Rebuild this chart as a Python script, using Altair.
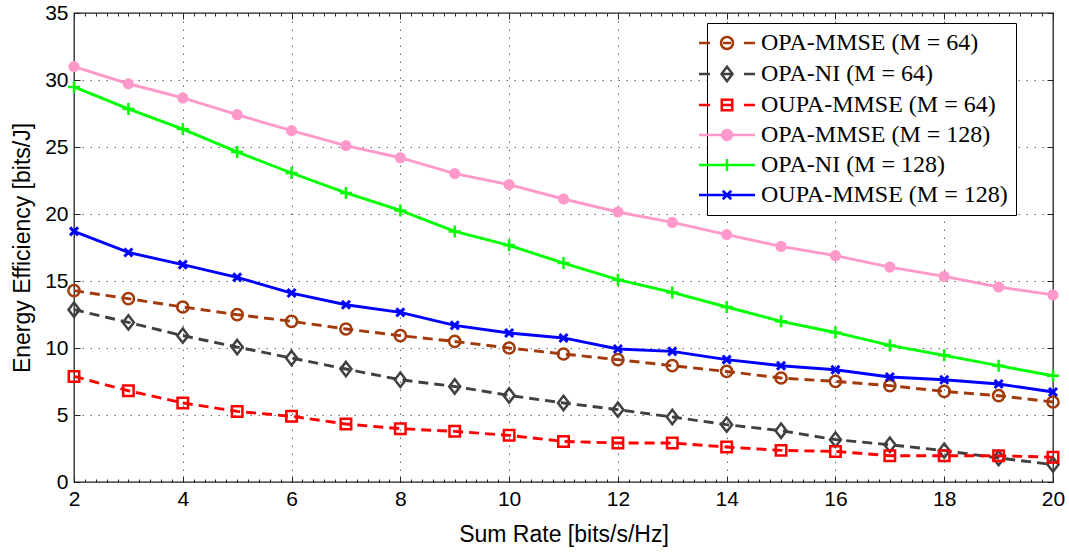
import altair as alt
import pandas as pd

# ---------------- data ----------------
sum_rate = list(range(2, 21))

series_labels = [
    "OPA-MMSE (M = 64)",
    "OPA-NI (M = 64)",
    "OUPA-MMSE (M = 64)",
    "OPA-MMSE (M = 128)",
    "OPA-NI (M = 128)",
    "OUPA-MMSE (M = 128)",
]

opa_mmse_64 = [14.28, 13.68, 13.06, 12.49, 11.99, 11.42, 10.92, 10.49, 10.00, 9.55,
               9.13, 8.68, 8.25, 7.76, 7.51, 7.19, 6.76, 6.44, 5.97]
opa_ni_64 = [12.86, 11.91, 10.92, 10.07, 9.25, 8.43, 7.63, 7.13, 6.46, 5.90,
             5.40, 4.85, 4.28, 3.83, 3.16, 2.78, 2.34, 1.79, 1.30]
oupa_mmse_64 = [7.88, 6.81, 5.90, 5.27, 4.90, 4.33, 3.98, 3.78, 3.48, 3.03,
                2.91, 2.91, 2.61, 2.36, 2.28, 1.96, 1.96, 1.96, 1.85]
opa_mmse_128 = [31.00, 29.72, 28.66, 27.41, 26.22, 25.10, 24.20, 23.01, 22.19, 21.12,
                20.15, 19.37, 18.46, 17.58, 16.89, 16.04, 15.34, 14.55, 13.96]
opa_ni_128 = [29.48, 27.84, 26.34, 24.63, 23.06, 21.57, 20.27, 18.70, 17.66, 16.34,
              15.10, 14.15, 13.06, 11.99, 11.16, 10.19, 9.45, 8.68, 7.93]
oupa_mmse_128 = [18.70, 17.13, 16.22, 15.27, 14.10, 13.23, 12.66, 11.69, 11.12, 10.75,
                 9.93, 9.75, 9.13, 8.68, 8.38, 7.84, 7.63, 7.31, 6.72]

series_values = [opa_mmse_64, opa_ni_64, oupa_mmse_64,
                 opa_mmse_128, opa_ni_128, oupa_mmse_128]

x_ticks = [2, 4, 6, 8, 10, 12, 14, 16, 18, 20]
y_ticks = [0, 5, 10, 15, 20, 25, 30, 35]
x_minor = [round(2 + 0.2 * i, 1) for i in range(91)]

# ---------------- styles ----------------
colors = ["#A33A0B", "#404040", "#FF0000", "#FF99CC", "#00FF00", "#0000FF"]
dashed = [True, True, True, False, False, False]
marker_shape = [
    "circle",
    "M0,-1.3L1,0L0,1.3L-1,0Z",
    "square",
    "circle",
    "M-1,0H1M0,-1V1",
    "M-1,-1L1,1M-1,1L1,-1",
]
marker_size = [125, 121, 110, 125, 144, 64]
marker_filled = [False, False, False, True, False, False]
marker_sw = [2.5, 2.5, 2.5, 1, 2.5, 3]

DASH_L = "M-5.6,0H-3.4M-0.8,0H0.8M3.4,0H5.6"
SOLID_L = "M-5.6,0H5.6"
legend_paths = [
    DASH_L + "M-1.2,0A1.2,1.2,0,1,0,1.2,0A1.2,1.2,0,1,0,-1.2,0Z",
    DASH_L + "M0,-1.45L1.1,0L0,1.45L-1.1,0Z",
    DASH_L + "M-1.05,-1.05H1.05V1.05H-1.05Z",
    SOLID_L + "M-1,0A1,1,0,1,0,1,0A1,1,0,1,0,-1,0ZM-0.6,0A0.6,0.6,0,1,0,0.6,0A0.6,0.6,0,1,0,-0.6,0ZM-0.25,0A0.25,0.25,0,1,0,0.25,0A0.25,0.25,0,1,0,-0.25,0Z",
    SOLID_L + "M-1.2,0H1.2M0,-1.2V1.2",
    SOLID_L + "M-0.85,-0.85L0.85,0.85M-0.85,0.85L0.85,-0.85",
]

rows = []
for lab, vals in zip(series_labels, series_values):
    for xv, yv in zip(sum_rate, vals):
        rows.append({"series": lab, "rate": xv, "ee": yv})
df = pd.DataFrame(rows)

W, H = 979, 469
SANS = "Liberation Sans"
SERIF = "Liberation Serif"

xscale = alt.Scale(domain=[2, 20], nice=False, zero=False)
yscale = alt.Scale(domain=[0, 35], nice=False, zero=False)

# axis definitions
ax_x_main = alt.Axis(values=x_ticks, ticks=False, domain=False, grid=True, labelFlush=False,
                     gridDash=[1.5, 6.5], gridColor="#444", gridWidth=1, gridOpacity=0.8,
                     labelFont=SANS, labelFontSize=21, labelColor="black", labelPadding=6,
                     title="Sum Rate [bits/s/Hz]", titleFont=SANS, titleFontSize=23,
                     titleFontWeight="normal", titleColor="black", titlePadding=14,
                     orient="bottom")
ax_y_main = alt.Axis(values=y_ticks, ticks=False, domain=False, grid=True, labelFlush=False,
                     gridDash=[1.5, 6.5], gridColor="#444", gridWidth=1, gridOpacity=0.8,
                     labelFont=SANS, labelFontSize=21, labelColor="black", labelPadding=6,
                     title="Energy Efficiency [bits/J]", titleFont=SANS, titleFontSize=23,
                     titleFontWeight="normal", titleColor="black", titlePadding=10,
                     orient="left")


def tick_axis(values, orient, size):
    return alt.Axis(values=values, orient=orient, offset=-size, tickSize=size,
                    tickColor="#222", tickWidth=1, labels=False, domain=False,
                    grid=False, title=None)


axes_for_layer = [
    (ax_x_main, ax_y_main),
    (tick_axis(x_ticks, "bottom", 6), tick_axis(y_ticks, "left", 6)),
    (tick_axis(x_ticks, "top", 6), tick_axis(y_ticks, "right", 6)),
    (tick_axis(x_minor, "bottom", 3), None),
    (tick_axis(x_minor, "top", 3), None),
    (None, None),
]

layers = []
for i, lab in enumerate(series_labels):
    axx, axy = axes_for_layer[i]
    base = alt.Chart(df).transform_filter(alt.datum.series == lab)
    line_kw = dict(color=colors[i], strokeWidth=2.9)
    if dashed[i]:
        line_kw["strokeDash"] = [10, 6]
    line = base.mark_line(**line_kw).encode(
        x=alt.X("rate:Q", scale=xscale, axis=axx),
        y=alt.Y("ee:Q", scale=yscale, axis=axy),
    )
    pts = base.mark_point(shape=marker_shape[i], size=marker_size[i],
                          filled=marker_filled[i], color=colors[i],
                          strokeWidth=marker_sw[i], opacity=1).encode(
        x=alt.X("rate:Q", scale=xscale, axis=None),
        y=alt.Y("ee:Q", scale=yscale, axis=None),
    )
    layers += [line, pts]

leg = alt.Legend(title=None, orient="none", legendX=633, legendY=10,
                 labelFont=SERIF, labelFontSize=24, labelColor="black", labelLimit=500,
                 symbolSize=100, symbolStrokeWidth=2.5, symbolOpacity=1,
                 labelOffset=22, rowPadding=6, padding=8,
                 strokeColor="black", fillColor="white")

legend_layer = alt.Chart(df).transform_filter(alt.datum.rate < 0).mark_point(filled=False).encode(
    x=alt.X("rate:Q", scale=xscale, axis=None),
    y=alt.Y("ee:Q", scale=yscale, axis=None),
    color=alt.Color("series:N", scale=alt.Scale(domain=series_labels, range=colors), legend=leg),
    shape=alt.Shape("series:N", scale=alt.Scale(domain=series_labels, range=legend_paths), legend=leg),
)

chart = alt.layer(*layers, legend_layer).resolve_axis(
    x="independent", y="independent"
).properties(
    width=W, height=H,
    autosize=alt.AutoSizeParams(type="none"),
    padding={"left": 74, "top": 13, "right": 1069 - 74 - W, "bottom": 554 - 13 - H},
    background="white",
).configure_view(stroke="#222", strokeWidth=1.3)

chart.save("out.html", embed_options={"renderer": "svg", "actions": False})
